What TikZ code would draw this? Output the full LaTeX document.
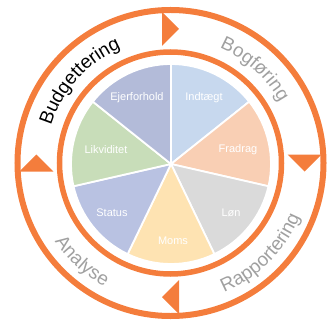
\documentclass[tikz,border=0pt]{standalone}
\usepackage{fontspec}
\setmainfont{Liberation Sans}
\usetikzlibrary{decorations.text}
\definecolor{ringorange}{HTML}{F47D3C}
\definecolor{ringgray}{HTML}{A0A0A0}
\definecolor{cEjer}{HTML}{B3BBD9}
\definecolor{cIndt}{HTML}{C7D8EE}
\definecolor{cFrad}{HTML}{F9CFB4}
\definecolor{cLon}{HTML}{DADADA}
\definecolor{cMoms}{HTML}{FEE3B2}
\definecolor{cStat}{HTML}{B9C2E2}
\definecolor{cLikv}{HTML}{C8DDB9}
\newcommand\ringfont{\fontsize{19}{19}\selectfont}
\newcommand\piefont{\fontsize{11}{13}\selectfont}
\tikzset{
  sector/.style={draw=white, line width=1.8pt},
  pielabel/.style={text=white, font=\piefont, inner sep=0pt},
  ringline/.style={draw=ringorange},
  marker/.style={fill=ringorange},
  ringtext/.style={decorate, decoration={text along path, text align=center, text={#1}}}
}
\begin{document}
\begin{tikzpicture}[x=1pt,y=1pt]
\useasboundingbox (-170.5,-163) rectangle (157.5,163);
\coordinate (c) at (0,0);
\coordinate (pc) at (0.5,-1);
% pie
\foreach \a/\b/\col in {90/38.57/cIndt, 38.57/-12.86/cFrad, -12.86/-64.29/cLon, -64.29/-115.71/cMoms, -115.71/-167.14/cStat, -167.14/-218.57/cLikv, 141.43/90/cEjer}{
  \filldraw[sector, fill=\col] (pc) -- ++(\a:100) arc[start angle=\a, end angle=\b, radius=100] -- cycle;
}
\node[pielabel] (ejer) at (-33.5,65) {Ejerforhold};
\node[pielabel] (indt) at (33.5,65) {Indtægt};
\node[pielabel] (frad) at (67.5,13) {Fradrag};
\node[pielabel] (lon) at (60.5,-50) {Løn};
\node[pielabel] (moms) at (2.5,-78) {Moms};
\node[pielabel] (stat) at (-58.5,-50) {Status};
\node[pielabel] (likv) at (-64.5,13) {Likviditet};
% rings
\draw[ringline, line width=6pt] (c) circle[radius=153];
\draw[ringline, line width=5.5pt] (c) circle[radius=111];
% markers pointing clockwise
\foreach \a in {90,0,-90,180}{
  \fill[marker, rotate=\a-90] (-8.5,117) -- (-8.5,151) -- (8.5,134) -- cycle;
}
% ring texts
\path[ringtext={|\ringfont\color{black}|Budgettering}] (178:125) arc[start angle=178, end angle=98, radius=125];
\path[ringtext={|\ringfont\color{ringgray}|Bogføring}] (88:125) arc[start angle=88, end angle=8, radius=125];
\path[ringtext={|\ringfont\color{ringgray}|Rapportering}] (-90:140) arc[start angle=-90, end angle=0, radius=140];
\path[ringtext={|\ringfont\color{ringgray}|Analyse}] (-177:140) arc[start angle=-177, end angle=-87, radius=140];
\end{tikzpicture}
\end{document}
